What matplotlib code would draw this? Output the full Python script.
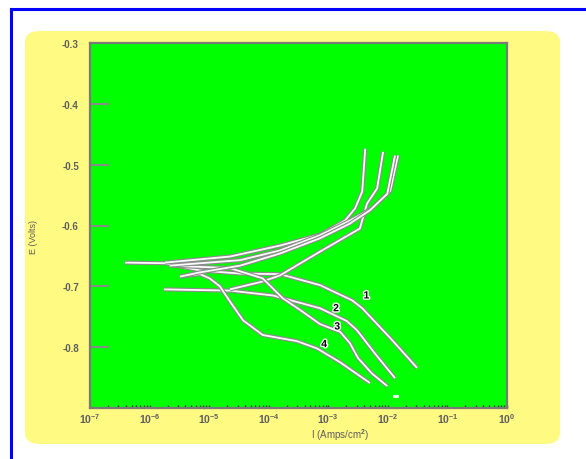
import matplotlib
matplotlib.use("Agg")
import matplotlib.pyplot as plt
import matplotlib.patheffects as pe
from matplotlib.patches import FancyBboxPatch
from matplotlib.lines import Line2D
import numpy as np

plt.rcParams["mathtext.fontset"] = "custom"
plt.rcParams["mathtext.rm"] = "Liberation Sans:bold"
plt.rcParams["mathtext.it"] = "Liberation Sans:bold"
plt.rcParams["mathtext.bf"] = "Liberation Sans:bold"
plt.rcParams["mathtext.default"] = "rm"

# ---- data (log10 of current density in A/cm^2, potential in V) ----
c1_cat_logI = [-6.41, -5.74, -5.15, -4.48, -3.81, -3.14, -2.60, -2.43, -1.96, -1.51]
c1_cat_E    = [-0.661, -0.662, -0.674, -0.679, -0.680, -0.698, -0.723, -0.736, -0.785, -0.834]
c1_an_logI  = [-5.74, -4.65, -3.81, -3.14, -2.72, -2.55, -2.43, -2.38]
c1_an_E     = [-0.661, -0.651, -0.633, -0.615, -0.592, -0.572, -0.544, -0.474]

c2_cat_logI = [-5.76, -4.65, -3.93, -3.14, -2.69, -2.52, -2.22, -1.88]
c2_cat_E    = [-0.705, -0.707, -0.715, -0.736, -0.757, -0.772, -0.810, -0.851]
c2_an_logI  = [-4.65, -4.10, -3.81, -3.14, -2.47, -2.35, -2.18, -2.08]
c2_an_E     = [-0.705, -0.692, -0.682, -0.643, -0.605, -0.564, -0.539, -0.479]

c3_cat_logI = [-5.66, -4.65, -4.10, -3.76, -3.47, -3.14, -2.80, -2.64, -2.50, -2.27, -2.01]
c3_cat_E    = [-0.666, -0.670, -0.687, -0.720, -0.739, -0.762, -0.775, -0.793, -0.818, -0.843, -0.864]
c3_an_logI  = [-5.66, -5.15, -4.48, -3.81, -3.14, -2.64, -2.27, -1.96, -1.83]
c3_an_E     = [-0.666, -0.662, -0.657, -0.641, -0.616, -0.592, -0.572, -0.543, -0.485]

c4_cat_logI = [-5.49, -5.15, -4.99, -4.82, -4.65, -4.43, -4.10, -3.53, -3.19, -2.80, -2.30]
c4_cat_E    = [-0.684, -0.680, -0.687, -0.700, -0.725, -0.756, -0.780, -0.790, -0.802, -0.825, -0.859]
c4_an_logI  = [-5.49, -5.15, -4.48, -3.81, -3.14, -2.64, -2.30, -2.01, -1.88]
c4_an_E     = [-0.684, -0.677, -0.666, -0.646, -0.621, -0.597, -0.575, -0.548, -0.485]

curve_labels = ["1", "2", "3", "4"]
label_logI = [-2.36, -2.87, -2.85, -3.07]
label_E = [-0.715, -0.736, -0.766, -0.795]

y_ticks = [-0.8, -0.7, -0.6, -0.5, -0.4, -0.3]
y_ticklabels = ["-0.8", "-0.7", "-0.6", "-0.5", "-0.4", "-0.3"]
x_exponents = [-7, -6, -5, -4, -3, -2, -1, 0]

# ---- figure ----
W, H = 586, 460
fig = plt.figure(figsize=(W / 100, H / 100), dpi=100)
fig.patch.set_facecolor("white")

# yellow rounded panel
panel = FancyBboxPatch((25 / W, 1 - 445 / H), 535 / W, 413 / H,
                       boxstyle="round,pad=0,rounding_size=0.025",
                       transform=fig.transFigure, facecolor="#fffa82",
                       edgecolor="none", zorder=-10)
fig.patches.append(panel)

# blue border (top and left)
fig.add_artist(Line2D([11 / W, 1.0], [1 - 10 / H, 1 - 10 / H], color="#0000ff",
                      lw=2.2, transform=fig.transFigure, zorder=-5))
fig.add_artist(Line2D([11 / W, 11 / W], [0.0, 1 - 10 / H], color="#0000ff",
                      lw=2.2, transform=fig.transFigure, zorder=-5))

ax = fig.add_axes([90 / W, 1 - 409 / H, 417 / W, 365 / H])
ax.set_zorder(5)
ax.set_facecolor("#00ff00")
ax.set_xscale("log")
ax.set_xlim(1e-7, 1.0)
ax.set_ylim(-0.9, -0.3)

line_fx = [pe.Stroke(linewidth=3.0, foreground="#8c8c8c"), pe.Normal()]
branches = [
    (c1_cat_logI, c1_cat_E), (c1_an_logI, c1_an_E),
    (c2_cat_logI, c2_cat_E), (c2_an_logI, c2_an_E),
    (c3_cat_logI, c3_cat_E), (c3_an_logI, c3_an_E),
    (c4_cat_logI, c4_cat_E), (c4_an_logI, c4_an_E),
]
for lx, ly in branches:
    ax.plot(10.0 ** np.array(lx), ly, color="white", lw=1.3,
            solid_joinstyle="round", solid_capstyle="butt",
            path_effects=line_fx, zorder=3)

for t, lx, ly in zip(curve_labels, label_logI, label_E):
    ax.text(10.0 ** lx, ly, t, fontsize=7.5, fontweight="bold", color="black",
            ha="center", va="center", family="Liberation Sans", zorder=5,
            path_effects=[pe.withStroke(linewidth=2, foreground="white")])

# small white dash near the bottom
ax.plot([10.0 ** -1.90, 10.0 ** -1.85], [-0.880, -0.880], color="white", lw=2, zorder=4)

# spines
for s in ax.spines.values():
    s.set_color("#7a7a7a")
    s.set_linewidth(1.6)

grey = "#5e5e5e"
ax.set_yticks(y_ticks)
ax.set_yticklabels(y_ticklabels)
ax.tick_params(axis="y", direction="in", length=14, width=1.4, color="#8a8a8a",
               labelsize=7, labelcolor=grey, pad=8)
ax.set_xticks([10.0 ** e for e in x_exponents])
ax.set_xticklabels([r"$10^{%d}$" % e for e in x_exponents])
ax.xaxis.set_minor_locator(matplotlib.ticker.LogLocator(base=10, subs=np.arange(2, 10)))
ax.xaxis.set_minor_formatter(matplotlib.ticker.NullFormatter())
ax.tick_params(axis="x", which="both", direction="in", length=2.5, width=1.0,
               color="#333333", labelsize=7.5, labelcolor=grey, pad=2)
for lab in ax.get_yticklabels() + ax.get_xticklabels():
    lab.set_fontweight("bold")
    lab.set_family("Liberation Sans")

fig.text(33 / W, 1 - 237 / H, "E (Volts)", rotation=90, ha="center", va="center",
         fontsize=6.5, color=grey, family="Liberation Sans")
fig.text(340 / W, 1 - 435 / H, r"I (Amps/cm$^2$)", ha="center", va="center",
         fontsize=7, color=grey, family="Liberation Sans")

fig.savefig("out.png", dpi=100, facecolor="white")
